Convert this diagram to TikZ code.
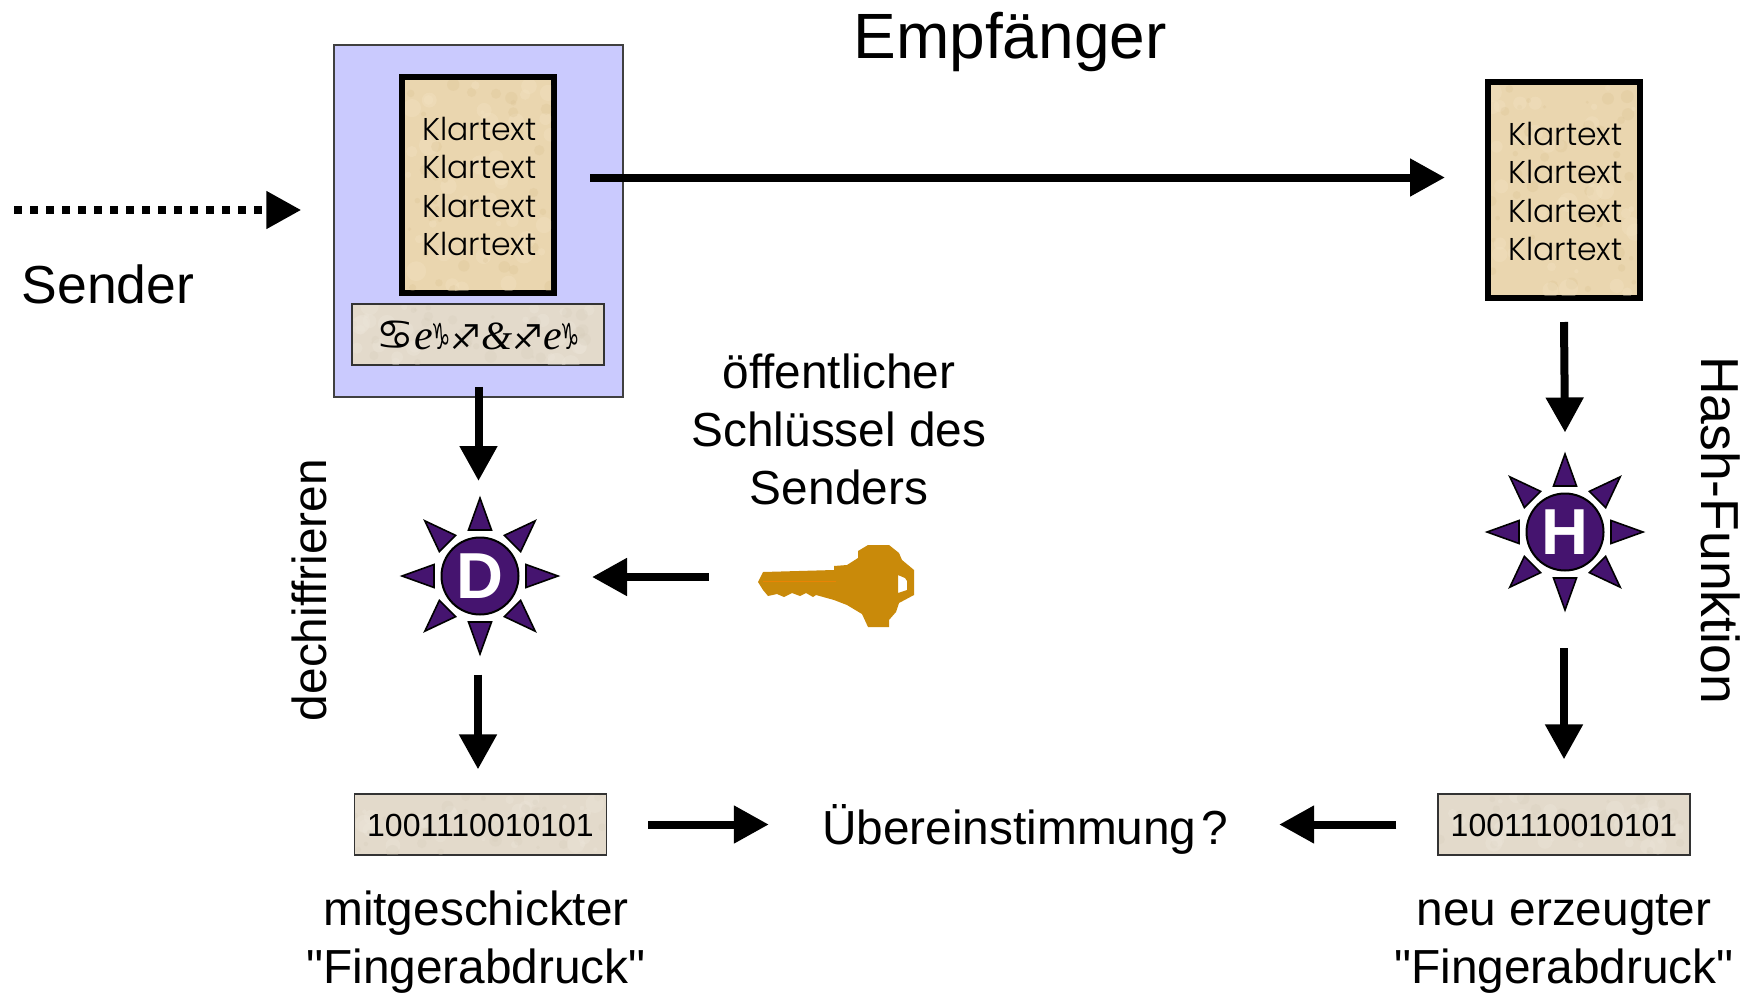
\documentclass[tikz,border=0pt]{standalone}
\usepackage{fontspec}
\setmainfont{Liberation Sans}
\newfontfamily\arialf{Liberation Sans}
\newfontfamily\gothicfont{Poppins Light}
\newfontfamily\djv{DejaVu Sans}
\newfontfamily\timesit{Liberation Serif Italic}
\usetikzlibrary{arrows.meta,calc}
\definecolor{bluebox}{HTML}{CACAFE}
\definecolor{parch}{HTML}{EAD6AF}
\definecolor{parchb}{HTML}{F3E4C4}
\definecolor{parchd}{HTML}{D9C08F}
\definecolor{greyp}{HTML}{E3DACB}
\definecolor{greyb}{HTML}{EDE6DA}
\definecolor{greyd}{HTML}{D5CBB9}
\definecolor{sunv}{HTML}{45146F}
\definecolor{keyc}{HTML}{C98A0A}
\tikzset{
  x=1pt,y=-1pt,
  bigarrow/.style={line width=8pt,-{Triangle[length=35pt,width=36pt]}},
  dotarrow/.style={line width=8pt,dash pattern=on 8pt off 8pt,-{Triangle[length=35pt,width=36pt]}},
  label/.style={font=\arialf\fontsize{47.8}{58}\selectfont,anchor=base,align=center,inner sep=0pt},
  labelbig/.style={font=\arialf\fontsize{53.5}{60}\selectfont,anchor=base,inner sep=0pt},
  docbox/.style={draw=black,line width=6pt,fill=parch,minimum width=152pt,minimum height=216pt,inner sep=0pt},
  textbox/.style={draw=black!80,line width=1.2pt,fill=greyp,inner sep=0pt,minimum width=252pt,minimum height=61pt},
  klar/.style={font=\gothicfont\fontsize{31.5}{38.3}\selectfont,align=center,inner sep=0pt},
  sunc/.style={circle,draw=black,line width=2pt,fill=sunv,minimum size=77pt,inner sep=0pt,text=white,font=\arialf\bfseries\fontsize{65}{65}\selectfont},
  ray/.style={draw=black,line width=1.6pt,fill=sunv,line join=miter},
}
\newcommand{\sunrays}[1]{%
  \foreach \a in {0,45,...,315}{
    \path[ray,shift={(#1)},rotate=\a] (46,-11.5) -- (78,0) -- (46,11.5) -- cycle;
  }}
\newcommand{\speckle}[7]{% x0 y0 w h light dark count
  \begin{scope}
    \clip (#1,#2) rectangle ++(#3,#4);
    \pgfmathsetseed{#1}
    \foreach \i in {1,...,#7}{
      \pgfmathsetmacro{\px}{#1+rnd*#3}
      \pgfmathsetmacro{\py}{#2+rnd*#4}
      \pgfmathsetmacro{\pr}{2+rnd*8}
      \fill[#5,opacity=.35] (\px,\py) circle[radius=\pr];
      \pgfmathsetmacro{\px}{#1+rnd*#3}
      \pgfmathsetmacro{\py}{#2+rnd*#4}
      \pgfmathsetmacro{\pr}{1.5+rnd*5}
      \fill[#6,opacity=.25] (\px,\py) circle[radius=\pr];
    }
  \end{scope}}
\newcommand{\ciphertext}{%
  {\djv\fontsize{42}{42}\selectfont ♋}\hspace{1pt}%
  {\timesit\fontsize{42}{42}\selectfont e}\hspace{-2pt}{\scalebox{.6}[1]{\djv\fontsize{36}{36}\selectfont ♑}}\hspace{0pt}%
  {\djv\fontsize{34}{34}\selectfont ♐}\hspace{0pt}%
  {\timesit\fontsize{40}{40}\selectfont \&}\hspace{0pt}%
  {\djv\fontsize{34}{34}\selectfont ♐}\hspace{1pt}%
  {\timesit\fontsize{42}{42}\selectfont e}\hspace{-2pt}{\scalebox{.6}[1]{\djv\fontsize{36}{36}\selectfont ♑}}}
\begin{document}
\begin{tikzpicture}
\useasboundingbox (0,0) rectangle (1747,993);
% sender block
\node[draw=black!75,line width=1.5pt,fill=bluebox,minimum width=289pt,minimum height=352pt,inner sep=0pt] (blue) at (478.5,221) {};
\node[docbox] (docL) at (478,185) {};
\speckle{405}{80}{146}{210}{parchb}{parchd}{40}
\node[klar] (klarL) at (479.5,186.5) {Klartext\\Klartext\\Klartext\\Klartext};
\node[textbox] (cipher) at (478,334.5) {};
\speckle{353}{305}{250}{59}{greyb}{greyd}{30}
\node[inner sep=0pt] (ciphert) at (478,335) {\ciphertext};
% receiver doc
\node[docbox] (docR) at (1564,190) {};
\speckle{1491}{85}{146}{210}{parchb}{parchd}{40}
\node[klar] (klarR) at (1565.5,191.5) {Klartext\\Klartext\\Klartext\\Klartext};
% suns
\node[sunc] (sunD) at (480,576) {D};
\sunrays{480,576}
\node[sunc] (sunH) at (1565,532) {H};
\sunrays{1565,532}
% key
\node[inner sep=0pt,minimum width=156pt,minimum height=82pt] (key) at (836,586) {};
\fill[keyc,even odd rule] (758,582) -- (763,572) -- (834,570) -- (834,566) -- (847,565) -- (858,558) -- (858,551) -- (868,545) -- (889,545) -- (899,553) -- (902,560) -- (914,570) -- (914,595) -- (899,603) -- (896,612) -- (889,620) -- (889,627) -- (868,627) -- (862,614) -- (847,605) -- (834,600) -- (816,595) -- (813,597) -- (806,593) -- (800,596) -- (792,593) -- (784,597) -- (777,594) -- (768,596) -- (763,590) -- cycle
 (898,575) -- (905,578) -- (907,581) -- (907,590) -- (898,593) -- cycle;
\draw[orange!60!keyc,line width=1pt] (763,581) -- (836,581);
% fingerprint boxes
\node[textbox] (fpL) at (480.5,824.5) {};
\speckle{355}{795}{250}{59}{greyb}{greyd}{30}
\node[inner sep=0pt,font=\arialf\fontsize{32}{32}\selectfont] (fpLn) at (480.5,825.5) {1001110010101};
\node[textbox] (fpR) at (1564,824.5) {};
\speckle{1439}{795}{250}{59}{greyb}{greyd}{30}
\node[inner sep=0pt,font=\arialf\fontsize{32}{32}\selectfont] (fpRn) at (1564,825.5) {1001110010101};
% labels
\node[font=\arialf\fontsize{64}{64}\selectfont,anchor=base,inner sep=0pt] (empf) at (1010,58) {Empfänger};
\node[labelbig,anchor=base west] (sender) at (21.5,303) {Sender};
\node[label] (oeff) at (839,504) {öffentlicher\\Schlüssel des\\Senders};
\node[label] (ueber) at (1025,844) {Übereinstimmung\hspace{.1em}?};
\node[label] (fpLt) at (476,983) {mitgeschickter\\"Fingerabdruck"};
\node[label] (fpRt) at (1564,983) {neu erzeugter\\"Fingerabdruck"};
\node[label,rotate=90] (dech) at (326,590) {dechiffrieren};
\node[labelbig,rotate=-90] (hash) at (1701,530) {Hash-Funktion};
\coordinate (dotstart) at (14,210);
% connectors
\draw[dotarrow] (dotstart) -- ([xshift=-32pt,yshift=11pt]blue.west);
\draw[bigarrow] ([xshift=33pt,yshift=7.5pt]docL.east) -- ([xshift=-40pt,yshift=12.5pt]docR.west);
\draw[bigarrow] ([yshift=11pt]blue.south) -- ([xshift=-1.5pt,yshift=55.5pt]sunD.north);
\draw[bigarrow] ([xshift=-2pt,yshift=-59pt]sunD.south) -- ([xshift=-2.5pt,yshift=24pt]fpL.north);
\draw[bigarrow] ([yshift=-21pt]docR.south) -- ([yshift=60pt]sunH.north);
\draw[bigarrow] ([xshift=-1pt,yshift=-76.5pt]sunH.south) -- ([yshift=34pt]fpR.north);
\draw[bigarrow] ([xshift=-49pt,yshift=9pt]key.west) -- ([xshift=72.5pt,yshift=-1pt]sunD.east);
\draw[bigarrow] ([xshift=41pt]fpL.east) -- ([xshift=-53pt]ueber.west |- fpL.east);
\draw[bigarrow] ([xshift=-41pt]fpR.west) -- ([xshift=51pt]ueber.east |- fpR.west);
\end{tikzpicture}
\end{document}
